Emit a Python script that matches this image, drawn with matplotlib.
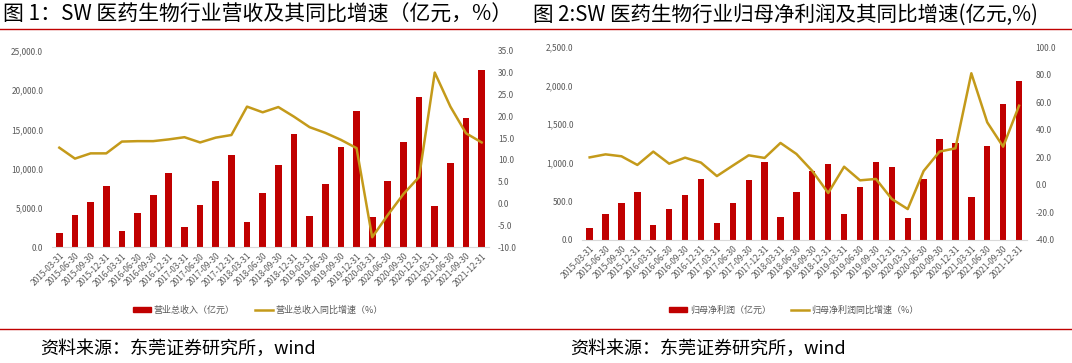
import matplotlib
matplotlib.use("Agg")
import matplotlib.pyplot as plt
from matplotlib.lines import Line2D
from matplotlib.patches import Patch
from matplotlib.ticker import FuncFormatter

plt.rcParams['font.family'] = ['Noto Sans CJK SC', 'DejaVu Sans']

# quarters 2015Q1 .. 2021Q4
dates = []
for yr in range(2015, 2022):
    for md in ['03-31', '06-30', '09-30', '12-31']:
        dates.append(f"{yr}-{md}")

# chart 1: revenue (亿元) and yoy growth (%)
revenue = [1780, 4150, 5720, 7840, 2120, 4320, 6610, 9450, 2540, 5380,
           8390, 11740, 3260, 6860, 10470, 14410, 4030, 8090, 12750, 17290,
           3860, 8390, 13430, 19070, 5210, 10680, 16480, 22580]
revenue_yoy = [12.8, 10.3, 11.5, 11.5, 14.2, 14.3, 14.3, 14.7, 15.2, 14.0,
               15.1, 15.7, 22.2, 20.9, 22.1, 19.9, 17.5, 16.2, 14.6, 12.7,
               -7.7, -2.6, 2.2, 6.1, 30.0, 22.2, 16.1, 14.0]

# chart 2: net profit attributable to parent (亿元) and yoy growth (%)
profit = [147, 334, 481, 620, 186, 394, 581, 789, 212, 481,
          776, 1014, 290, 620, 893, 979, 334, 685, 1005, 940,
          286, 789, 1309, 1252, 550, 1217, 1763, 2058]
profit_yoy = [19.9, 22.1, 20.7, 14.4, 24.1, 15.3, 19.7, 16.1, 6.3, 13.9,
              21.4, 19.5, 30.4, 22.4, 10.0, -6.0, 13.1, 3.2, 4.2, -10.4,
              -17.7, 10.0, 24.1, 26.5, 81.1, 45.4, 27.7, 57.5]

BAR = '#C00000'
LINE = '#C49A1A'
GRAY = '#595959'

W, H = 1072, 363
fig = plt.figure(figsize=(W / 100, H / 100), dpi=100)


def px_axes(x0, x1, ytop, ybot):
    return fig.add_axes([x0 / W, 1 - ybot / H, (x1 - x0) / W, (ybot - ytop) / H])


def draw(ax, bars, line, ylim, y2lim, y2step, ystep, bw, labels, legend_x):
    x = list(range(len(dates)))
    ax.bar(x, bars, width=bw, color=BAR, zorder=2)
    ax.set_xlim(-0.5, len(dates) - 0.5)
    ax.set_ylim(*ylim)
    ax.set_yticks(range(ylim[0], ylim[1] + 1, ystep))
    ax.yaxis.set_major_formatter(FuncFormatter(lambda v, p: f"{v:,.1f}"))
    ax.set_xticks(x)
    ax.set_xticklabels(dates, rotation=45, ha='right', rotation_mode='anchor',
                       fontsize=6, color=GRAY)
    ax.tick_params(axis='y', length=0, labelsize=6, labelcolor=GRAY, pad=6)
    ax.tick_params(axis='x', length=0, pad=3)
    for s in ['top', 'left', 'right']:
        ax.spines[s].set_visible(False)
    ax.spines['bottom'].set_color('#D9D9D9')

    ax2 = ax.twinx()
    ax2.plot(x, line, color=LINE, lw=1.8, zorder=3)
    ax2.set_ylim(*y2lim)
    ticks = []
    v = y2lim[0]
    while v <= y2lim[1] + 1e-9:
        ticks.append(v)
        v += y2step
    ax2.set_yticks(ticks)
    ax2.yaxis.set_major_formatter(FuncFormatter(lambda v, p: f"{v:.1f}"))
    ax2.tick_params(axis='y', length=0, labelsize=6, labelcolor=GRAY, pad=6)
    for s in ax2.spines.values():
        s.set_visible(False)

    handles = [Patch(color=BAR), Line2D([0], [0], color=LINE, lw=1.8)]
    fig.legend(handles, labels, loc='center', bbox_to_anchor=(legend_x / W, 1 - 310 / H),
               ncol=2, frameon=False, fontsize=6.5, handlelength=2.0, handleheight=0.5,
               columnspacing=2.2, handletextpad=0.3, labelcolor=GRAY)


ax1 = px_axes(51.5, 489.5, 50.7, 247.3)
draw(ax1, revenue, revenue_yoy, (0, 25000), (-10, 35), 5, 5000, 0.43,
     ['营业总收入（亿元）', '营业总收入同比增速（%）'], 258)

ax3 = px_axes(581.7, 1027, 47.3, 239.7)
draw(ax3, profit, profit_yoy, (0, 2500), (-40, 100), 20, 500, 0.40,
     ['归母净利润（亿元）', '归母净利润同比增速（%）'], 794)

# titles, rules, source notes
fig.text(3 / W, 1 - 15 / H, '图 1：SW 医药生物行业营收及其同比增速（亿元，%）',
         fontsize=15, va='center', ha='left', color='black')
fig.text(533 / W, 1 - 15 / H, '图 2:SW 医药生物行业归母净利润及其同比增速(亿元,%)',
         fontsize=14.8, va='center', ha='left', color='black')
for yy in [29, 329]:
    fig.add_artist(Line2D([0, 1], [1 - yy / H, 1 - yy / H], color=BAR, lw=1,
                          transform=fig.transFigure))
fig.text(40 / W, 1 - 349 / H, '资料来源：东莞证券研究所，wind', fontsize=13,
         va='center', ha='left', color='black')
fig.text(570 / W, 1 - 349 / H, '资料来源：东莞证券研究所，wind', fontsize=13,
         va='center', ha='left', color='black')

fig.savefig('out.png', dpi=100)
